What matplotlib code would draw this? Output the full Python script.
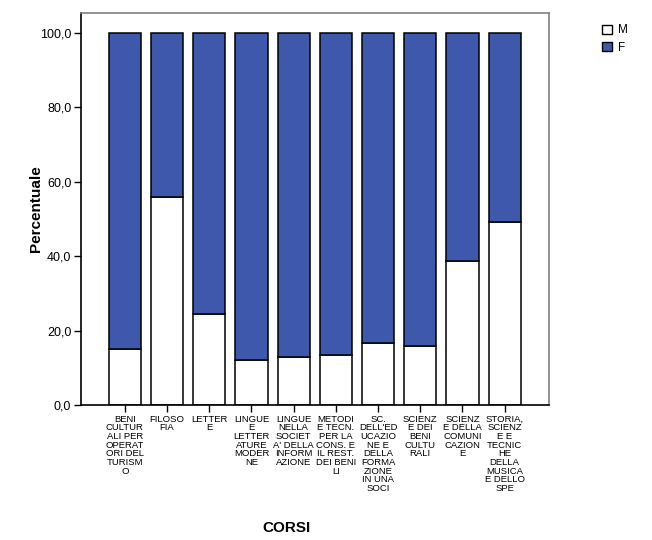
import matplotlib.pyplot as plt
from matplotlib.patches import Patch

plt.rcParams['font.family'] = ['Liberation Sans', 'DejaVu Sans']

corsi = [
    "BENI\nCULTUR\nALI PER\nOPERAT\nORI DEL\nTURISM\nO",
    "FILOSO\nFIA",
    "LETTER\nE",
    "LINGUE\nE\nLETTER\nATURE\nMODER\nNE",
    "LINGUE\nNELLA\nSOCIET\nA' DELLA\nINFORM\nAZIONE",
    "METODI\nE TECN.\nPER LA\nCONS. E\nIL REST.\nDEI BENI\nLI",
    "SC.\nDELL'ED\nUCAZIO\nNE E\nDELLA\nFORMA\nZIONE\nIN UNA\nSOCI",
    "SCIENZ\nE DEI\nBENI\nCULTU\nRALI",
    "SCIENZ\nE DELLA\nCOMUNI\nCAZION\nE",
    "STORIA,\nSCIENZ\nE E\nTECNIC\nHE\nDELLA\nMUSICA\nE DELLO\nSPE",
]
perc_m = [15.0, 56.0, 24.5, 12.2, 12.8, 13.4, 16.6, 15.9, 38.7, 49.2]
perc_f = [100 - v for v in perc_m]

blue = '#3e58ac'

fig = plt.figure(figsize=(6.52, 5.40), dpi=100)
ax = fig.add_axes([0.1242, 0.25, 0.7178, 0.726])

x = range(len(corsi))
ax.bar(x, perc_m, width=0.76, color='white', edgecolor='black', linewidth=1.1, label='M')
ax.bar(x, perc_f, width=0.76, bottom=perc_m, color=blue, edgecolor='black', linewidth=1.1, label='F')

ax.set_xlim(-1.04, 10.05)
ax.set_ylim(0, 105.4)
ax.set_yticks([0, 20, 40, 60, 80, 100])
ax.set_yticklabels(['0,0', '20,0', '40,0', '60,0', '80,0', '100,0'], fontsize=9)
ax.set_xticks(list(x))
ax.set_xticklabels(corsi, fontsize=6.8, linespacing=0.95, va='top')
ax.tick_params(axis='both', direction='out', length=5, width=1, color='black', pad=2)

for s in ['top', 'right']:
    ax.spines[s].set_color('#808080')
    ax.spines[s].set_linewidth(1.2)
for s in ['left', 'bottom']:
    ax.spines[s].set_color('black')
    ax.spines[s].set_linewidth(1.2)

ax.set_ylabel('Percentuale', fontsize=11, fontweight='bold')
ax.yaxis.set_label_coords(-0.081, 0.5)
ax.set_xlabel('CORSI', fontsize=11, fontweight='bold')
ax.xaxis.set_label_coords(0.44, -0.296)

handles = [Patch(facecolor='white', edgecolor='black', label='M'),
           Patch(facecolor=blue, edgecolor='black', label='F')]
fig.legend(handles=handles, loc='upper left', bbox_to_anchor=(0.915, 0.966),
           frameon=False, fontsize=8.5, handlelength=0.8, handleheight=0.8,
           handletextpad=0.5, labelspacing=0.45, borderpad=0)

fig.savefig('out.png', dpi=100)
